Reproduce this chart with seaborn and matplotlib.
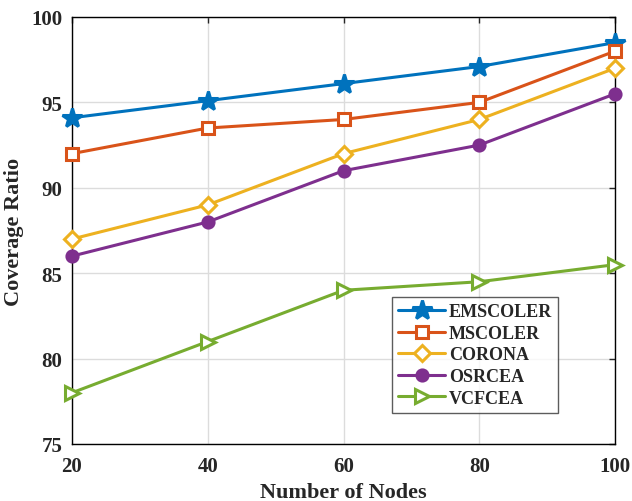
import matplotlib
matplotlib.use("Agg")
import matplotlib.pyplot as plt
import seaborn as sns
import pandas as pd

nodes = [20, 40, 60, 80, 100]
emscoler = [94.1, 95.1, 96.1, 97.1, 98.5]
mscoler = [92.0, 93.5, 94.0, 95.0, 98.0]
corona = [87.0, 89.0, 92.0, 94.0, 97.0]
osrcea = [86.0, 88.0, 91.0, 92.5, 95.5]
vcfcea = [78.0, 81.0, 84.0, 84.5, 85.5]
names = ["EMSCOLER", "MSCOLER", "CORONA", "OSRCEA", "VCFCEA"]
series = [emscoler, mscoler, corona, osrcea, vcfcea]
colors = ["#0072BD", "#D95319", "#EDB120", "#7E2F8E", "#77AC30"]
markers = ["*", "s", "D", "o", ">"]
msizes = [15, 8, 8, 8, 10]
faces = ["#0072BD", "white", "white", "#7E2F8E", "white"]

sns.set_style("white")
plt.rcParams["font.family"] = ["Liberation Serif", "DejaVu Serif"]
plt.rcParams["font.weight"] = "bold"

fig = plt.figure(figsize=(6.32, 5.02), dpi=100)
ax = fig.add_axes([72 / 632, 57 / 502, 543 / 632, 427 / 502])

rows = []
for n, s in zip(names, series):
    for x, y in zip(nodes, s):
        rows.append({"Nodes": x, "Coverage": y, "Method": n})
df = pd.DataFrame(rows)

for n, c, m, ms, fc in zip(names, colors, markers, msizes, faces):
    sub = df[df["Method"] == n]
    sns.lineplot(data=sub, x="Nodes", y="Coverage", ax=ax, color=c, marker=m,
                 markersize=ms, markerfacecolor=fc, markeredgecolor=c,
                 markeredgewidth=2.2, linewidth=2.2, label=n, clip_on=False)

ax.set_xlim(20, 100)
ax.set_ylim(75, 100)
ax.set_xticks(nodes)
ax.set_yticks([75, 80, 85, 90, 95, 100])
ax.grid(True, color="#DCDCDC", linewidth=1)
ax.tick_params(direction="in", top=True, right=True, length=4, width=1,
               labelsize=15, pad=7)
ax.tick_params(axis="x", pad=9)
for lab in ax.get_xticklabels() + ax.get_yticklabels():
    lab.set_fontweight("bold")
for sp in ax.spines.values():
    sp.set_color("black")
    sp.set_linewidth(1)
    sp.set_zorder(1)
ax.set_xlabel("Number of Nodes", fontsize=16, fontweight="bold", labelpad=4)
ax.set_ylabel("Coverage Ratio", fontsize=16, fontweight="bold", labelpad=5)

leg = ax.legend(loc="lower left", bbox_to_anchor=(320 / 543, 0.073),
                prop={"weight": "bold", "size": 13}, frameon=True, fancybox=False,
                edgecolor="#333333", handlelength=2.6, borderpad=0.35,
                labelspacing=0.25, handletextpad=0.2, borderaxespad=0)
leg.get_frame().set_linewidth(1)
leg.set_zorder(5)

fig.savefig("out.png", dpi=100)
